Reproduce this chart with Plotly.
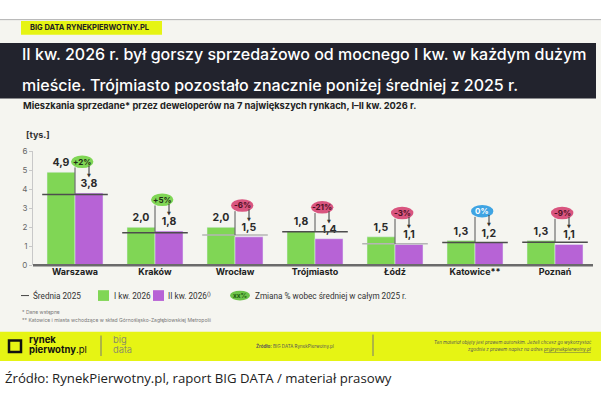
import plotly.graph_objects as go

cities = ["Warszawa", "Kraków", "Wrocław", "Trójmiasto", "Łódź", "Katowice**", "Poznań"]
q1_2026 = [4.9, 2.0, 2.0, 1.8, 1.5, 1.3, 1.3]
q2_2026 = [3.8, 1.8, 1.5, 1.4, 1.1, 1.2, 1.1]
avg_2025 = [3.73, 1.71, 1.60, 1.77, 1.13, 1.20, 1.21]
change_pct = [2, 5, -6, -21, -3, 0, -9]
y_ticks = [0, 1, 2, 3, 4, 5, 6]

W, H = 601, 401
GREEN = "#80d655"
PURPLE = "#b763d6"
PINK = "#d9557f"
BLUE = "#3fa4e3"
BG = "#f5f5f0"
YELLOW = "#e6f414"
DARK = "#22232d"
FONT = "Inter"
LFONT = "Roboto"


def X(px):
    return px / W


def Y(py):
    return 1 - py / H


fig = go.Figure()
fig.add_trace(go.Bar(x=cities, y=q1_2026, name="I kw. 2026", marker_color=GREEN,
                     texttemplate="%{y:.1f}", textposition="outside",
                     textfont=dict(family=FONT, size=10.5, color="#2a2a2a", weight="bold"),
                     cliponaxis=False))
fig.add_trace(go.Bar(x=cities, y=q2_2026, name="II kw. 2026", marker_color=PURPLE,
                     texttemplate="%{y:.1f}", textposition="outside",
                     textfont=dict(family=FONT, size=10.5, color="#2a2a2a", weight="bold"),
                     cliponaxis=False))

shapes = []
annotations = []

# backgrounds
shapes.append(dict(type="rect", xref="paper", yref="paper", x0=0, x1=1, y0=Y(365), y1=Y(15),
                   fillcolor=BG, line_width=0, layer="below"))
shapes.append(dict(type="line", xref="paper", yref="paper", x0=0, x1=1, y0=Y(15), y1=Y(15),
                   line=dict(color="#b0b0b0", width=1), layer="below"))
shapes.append(dict(type="rect", xref="paper", yref="paper", x0=X(21), x1=X(162), y0=Y(30.5), y1=Y(16.5),
                   fillcolor=YELLOW, line_width=0, layer="below"))
shapes.append(dict(type="rect", xref="paper", yref="paper", x0=0, x1=X(596), y0=Y(96), y1=Y(39),
                   fillcolor=DARK, line_width=0, layer="below"))
shapes.append(dict(type="rect", xref="paper", yref="paper", x0=0, x1=1, y0=Y(365), y1=Y(335),
                   fillcolor=YELLOW, line_width=0, layer="below"))

annotations.append(dict(xref="paper", yref="paper", x=X(28), y=Y(23.5), xanchor="left", yanchor="middle",
                        text="<b>BIG DATA RYNEKPIERWOTNY.PL</b>", showarrow=False,
                        font=dict(family=FONT, size=7.5, color="#222")))
annotations.append(dict(xref="paper", yref="paper", x=X(20), y=Y(50), xanchor="left", yanchor="middle",
                        text="II kw. 2026 r. był gorszy sprzedażowo od mocnego I kw. w każdym dużym",
                        showarrow=False, font=dict(family=FONT, size=16, color="white", weight=500)))
annotations.append(dict(xref="paper", yref="paper", x=X(20), y=Y(82), xanchor="left", yanchor="middle",
                        text="mieście. Trójmiasto pozostało znacznie poniżej średniej z 2025 r.",
                        showarrow=False, font=dict(family=FONT, size=16, color="white", weight=500)))
annotations.append(dict(xref="paper", yref="paper", x=X(21), y=Y(103), xanchor="left", yanchor="middle",
                        text="<b>Mieszkania sprzedane* przez deweloperów na 7 największych rynkach, I–II kw. 2026 r.</b>",
                        showarrow=False, font=dict(family=FONT, size=9.3, color="#222")))
annotations.append(dict(xref="paper", yref="paper", x=X(24), y=Y(133), xanchor="left", yanchor="middle",
                        text="<b>[tys.]</b>", showarrow=False, font=dict(family=FONT, size=9, color="#333")))

# average lines, bubbles, connectors, arrows
for i, c in enumerate(cities):
    lc = "#b5b5b5" if c in ("Wrocław", "Łódź") else "#4d4d4d"
    shapes.append(dict(type="line", xref="x", yref="y", x0=i - 0.41, x1=i + 0.41,
                       y0=avg_2025[i], y1=avg_2025[i], line=dict(color=lc, width=1.5)))
    by = q2_2026[i] + 1.65
    bx = i + 0.09
    col = GREEN if change_pct[i] > 0 else (PINK if change_pct[i] < 0 else BLUE)
    tcol = "#1f2a14" if change_pct[i] > 0 else ("#4a0f22" if change_pct[i] < 0 else "white")
    shapes.append(dict(type="line", xref="x", yref="y", x0=i, x1=i, y0=avg_2025[i], y1=by - 0.3,
                       line=dict(color="#555", width=1)))
    shapes.append(dict(type="circle", xref="x", yref="y", x0=bx - 0.14, x1=bx + 0.14,
                       y0=by - 0.33, y1=by + 0.33, fillcolor=col, line_width=0))
    txt = ("+" if change_pct[i] > 0 else "") + f"{change_pct[i]}%"
    annotations.append(dict(xref="x", yref="y", x=bx, y=by, text=f"<b>{txt}</b>", showarrow=False,
                            font=dict(family=FONT, size=8, color=tcol)))
    # arrow: stem + small head glyph
    shapes.append(dict(type="line", xref="x", yref="y", x0=i + 0.175, x1=i + 0.175,
                       y0=by - 0.2, y1=q2_2026[i] + 0.95, line=dict(color="#333", width=1)))
    annotations.append(dict(xref="x", yref="y", x=i + 0.175, y=q2_2026[i] + 0.95, yanchor="middle",
                            text="▼", showarrow=False,
                            font=dict(family="DejaVu Sans", size=5, color="#333")))

# legend
LY = 298
LFS = 8.2
shapes.append(dict(type="line", xref="paper", yref="paper", x0=X(21), x1=X(29), y0=Y(LY), y1=Y(LY),
                   line=dict(color="#444", width=1)))
annotations.append(dict(xref="paper", yref="paper", x=X(31), y=Y(LY), xanchor="left", yanchor="middle",
                        text="Średnia 2025", showarrow=False, font=dict(family=LFONT, size=LFS, color="#333")))
shapes.append(dict(type="rect", xref="paper", yref="paper", x0=X(98), x1=X(109), y0=Y(LY + 5.5), y1=Y(LY - 5.5),
                   fillcolor=GREEN, line_width=0))
annotations.append(dict(xref="paper", yref="paper", x=X(111.5), y=Y(LY), xanchor="left", yanchor="middle",
                        text="I kw. 2026", showarrow=False, font=dict(family=LFONT, size=LFS, color="#333")))
shapes.append(dict(type="rect", xref="paper", yref="paper", x0=X(153), x1=X(164), y0=Y(LY + 5.5), y1=Y(LY - 5.5),
                   fillcolor=PURPLE, line_width=0))
annotations.append(dict(xref="paper", yref="paper", x=X(166), y=Y(LY), xanchor="left", yanchor="middle",
                        text="II kw. 2026<sup>()</sup>", showarrow=False, font=dict(family=LFONT, size=LFS, color="#333")))
shapes.append(dict(type="circle", xref="paper", yref="paper", x0=X(230), x1=X(250), y0=Y(LY + 5), y1=Y(LY - 5),
                   fillcolor="#6cc24a", line_width=0))
annotations.append(dict(xref="paper", yref="paper", x=X(240), y=Y(LY), xanchor="center", yanchor="middle",
                        text="<b>xx%</b>", showarrow=False, font=dict(family=FONT, size=6.5, color="#1f5a10")))
annotations.append(dict(xref="paper", yref="paper", x=X(253), y=Y(LY), xanchor="left", yanchor="middle",
                        text="Zmiana % wobec średniej w całym 2025 r.", showarrow=False,
                        font=dict(family=LFONT, size=LFS, color="#333")))

# footnotes
annotations.append(dict(xref="paper", yref="paper", x=X(20), y=Y(315), xanchor="left", yanchor="middle",
                        text="* Dane wstępne", showarrow=False, font=dict(family=FONT, size=5, color="#777")))
annotations.append(dict(xref="paper", yref="paper", x=X(20), y=Y(323), xanchor="left", yanchor="middle",
                        text="** Katowice i miasta wchodzące w skład Górnośląsko-Zagłębiowskiej Metropolii",
                        showarrow=False, font=dict(family=FONT, size=5, color="#777")))

# footer (yellow band)
shapes.append(dict(type="rect", xref="paper", yref="paper", x0=X(9), x1=X(21), y0=Y(356), y1=Y(344),
                   line=dict(color="#111", width=2.5), fillcolor="rgba(0,0,0,0)"))
annotations.append(dict(xref="paper", yref="paper", x=X(27), y=Y(343.5), xanchor="left", yanchor="middle",
                        text="<b>rynek</b>", showarrow=False, font=dict(family=FONT, size=9.5, color="#111")))
annotations.append(dict(xref="paper", yref="paper", x=X(27), y=Y(353.5), xanchor="left", yanchor="middle",
                        text="<b>pierwotny</b>.pl", showarrow=False, font=dict(family=FONT, size=9.5, color="#111")))
shapes.append(dict(type="line", xref="paper", yref="paper", x0=X(101), x1=X(101), y0=Y(360), y1=Y(339),
                   line=dict(color="#777", width=1)))
annotations.append(dict(xref="paper", yref="paper", x=X(111), y=Y(343.5), xanchor="left", yanchor="middle",
                        text="big", showarrow=False, font=dict(family=FONT, size=9.5, color="#777", weight=300)))
annotations.append(dict(xref="paper", yref="paper", x=X(111), y=Y(353), xanchor="left", yanchor="middle",
                        text="data", showarrow=False, font=dict(family=FONT, size=9.5, color="#777", weight=300)))
annotations.append(dict(xref="paper", yref="paper", x=X(254), y=Y(350), xanchor="left", yanchor="middle",
                        text="<b>Źródło:</b> BIG DATA RynekPierwotny.pl", showarrow=False,
                        font=dict(family=FONT, size=4.5, color="#555")))
shapes.append(dict(type="line", xref="paper", yref="paper", x0=X(373), x1=X(373), y0=Y(360), y1=Y(338),
                   line=dict(color="#777", width=1)))
annotations.append(dict(xref="paper", yref="paper", x=X(594), y=Y(346.5), xanchor="right", yanchor="middle",
                        text="<i>Ten materiał objęty jest prawem autorskim. Jeżeli chcesz go wykorzystać</i>",
                        showarrow=False, font=dict(family=FONT, size=4.5, color="#555")))
annotations.append(dict(xref="paper", yref="paper", x=X(594), y=Y(353), xanchor="right", yanchor="middle",
                        text="<i>zgodnie z prawem napisz na adres <u>pr@rynekpierwotny.pl</u></i>",
                        showarrow=False, font=dict(family=FONT, size=4.5, color="#555")))

# caption below
annotations.append(dict(xref="paper", yref="paper", x=X(3), y=Y(383), xanchor="left", yanchor="middle",
                        text="Źródło: RynekPierwotny.pl, raport BIG DATA / materiał prasowy", showarrow=False,
                        font=dict(family="Open Sans", size=13.2, color="#222")))

fig.update_layout(
    width=W, height=H,
    margin=dict(l=0, r=0, t=0, b=0),
    paper_bgcolor="white", plot_bgcolor="rgba(0,0,0,0)",
    barmode="group", bargap=0.3, bargroupgap=0,
    showlegend=False,
    separators=", ",
    shapes=shapes, annotations=annotations,
    font=dict(family=FONT),
    xaxis=dict(domain=[X(33), X(593)], range=[-0.525, 6.475], showgrid=False, zeroline=False,
               showline=False, ticks="",
               tickfont=dict(family=FONT, size=9, color="#222", weight="bold")),
    yaxis=dict(domain=[Y(267), Y(150)], range=[0, 6], tickvals=y_ticks, showgrid=False, zeroline=False,
               showline=True, linecolor="#c8c8c8", linewidth=1, ticks="outside", ticklen=3,
               tickcolor="#c8c8c8", tickfont=dict(family=FONT, size=8, color="#666")),
)
# x baseline
fig.add_shape(type="line", xref="paper", yref="paper", x0=X(33), x1=X(593), y0=Y(267), y1=Y(267),
              line=dict(color="#6a6a6a", width=2.5))

fig.write_html("out.html")
